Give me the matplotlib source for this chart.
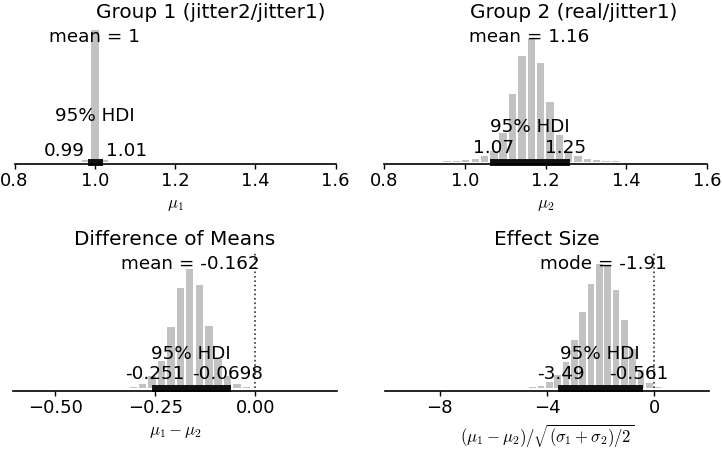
import matplotlib
matplotlib.use("Agg")
import matplotlib.pyplot as plt
from matplotlib.transforms import blended_transform_factory

plt.rcParams['font.family'] = 'DejaVu Sans'
plt.rcParams['font.size'] = 13.2
plt.rcParams['xtick.labelsize'] = 13
plt.rcParams['axes.labelsize'] = 12
plt.rcParams['mathtext.fontset'] = 'cm'

# posterior histograms (bin centres, relative counts)
mu1_centers = [0.978, 1.0006, 1.023]
mu1_counts = [2, 131.5, 2]
mu1_binw = 0.0227
mu1_hdi = [0.99, 1.01]
mu1_mean = 1.0

mu2_centers = [0.956, 0.979, 1.002, 1.026, 1.049, 1.072, 1.095, 1.118, 1.141, 1.165,
               1.188, 1.211, 1.234, 1.257, 1.280, 1.304, 1.327, 1.350, 1.373]
mu2_counts = [0.4, 0.7, 1.7, 3, 5.7, 11, 29, 68, 105.7, 123,
              99, 59.7, 26.3, 10.7, 5.7, 2.3, 1.3, 0.7, 0.4]
mu2_binw = 0.0232
mu2_hdi = [1.07, 1.25]
mu2_mean = 1.16

diff_centers = [-0.376, -0.353, -0.329, -0.305, -0.282, -0.258, -0.235, -0.211, -0.187, -0.164,
                -0.140, -0.116, -0.093, -0.069, -0.046, -0.022, 0.002, 0.025, 0.049]
diff_counts = [0.3, 0.5, 0.8, 1.8, 4.5, 12, 27.5, 61.8, 100.8, 119.2,
               103.5, 62.8, 29.2, 12, 4.2, 1.8, 0.8, 0.4, 0.3]
diff_binw = 0.0236
diff_hdi = [-0.251, -0.0698]
diff_mean = -0.162

eff_centers = [-5.777, -5.466, -5.156, -4.845, -4.535, -4.224, -3.914, -3.603, -3.292, -2.982,
               -2.671, -2.361, -2.050, -1.739, -1.429, -1.118, -0.808, -0.497, -0.186, 0.124, 0.435]
eff_counts = [0.3, 0.3, 0.5, 0.8, 1.2, 2.8, 6.2, 13, 26.2, 48,
              76.2, 104.2, 124.2, 123.5, 98.5, 68.5, 39, 18.5, 5.2, 1.5, 0.8]
eff_binw = 0.3106
eff_hdi = [-3.49, -0.561]
eff_mode = -1.91

bar_color = '#c2c2c2'


def plot_posterior(ax, centers, counts, binw, hdi, stat, stat_val, title, label,
                   xlim, xticks, title_x=0.5, hdi_txt_y=0.065, hdi_lbl_y=0.215,
                   split_labels=False, draw_zero=False):
    ax.bar(centers, counts, width=0.8 * binw, color=bar_color, edgecolor='none')
    ax.set_xlim(xlim)
    ax.set_ylim(0, 135)
    ax.set_title(title, fontsize=14.4, x=title_x)
    trans = blended_transform_factory(ax.transData, ax.transAxes)
    ax.text(stat_val, 0.885, '%s = %.3g' % (stat, stat_val), transform=trans,
            ha='center', va='baseline')
    if draw_zero:
        ax.axvline(0, linestyle=':', color='#333333', lw=1.2)
    hdi_line, = ax.plot(hdi, [0, 0], lw=5.0, color='#111111')
    hdi_line.set_clip_on(False)
    if split_labels:
        # labels pushed off the tiny interval
        ax.text(hdi[0] - 0.015, hdi_txt_y, '%.3g' % hdi[0], transform=trans,
                ha='right', va='baseline')
        ax.text(hdi[1] + 0.018, hdi_txt_y, '%.3g' % hdi[1], transform=trans,
                ha='left', va='baseline')
    else:
        ax.text(hdi[0], hdi_txt_y, '%.3g' % hdi[0], transform=trans,
                ha='center', va='baseline')
        ax.text(hdi[1], hdi_txt_y, '%.3g' % hdi[1], transform=trans,
                ha='center', va='baseline')
    ax.text((hdi[0] + hdi[1]) / 2, hdi_lbl_y, '95% HDI', transform=trans,
            ha='center', va='baseline')
    ax.spines['bottom'].set_position(('outward', 2))
    ax.spines['bottom'].set_linewidth(1.2)
    for loc in ['left', 'top', 'right']:
        ax.spines[loc].set_color('none')
    ax.set_yticks([])
    ax.set_xticks(xticks)
    ax.tick_params(axis='x', direction='out', length=3.5, width=1, pad=2)
    ax.set_xlabel(label)


fig = plt.figure(figsize=(7.22, 4.5), dpi=100)
ax1 = fig.add_axes([0.0201, 0.6411, 0.4446, 0.3])
ax2 = fig.add_axes([0.5323, 0.6411, 0.4466, 0.3])
ax3 = fig.add_axes([0.0184, 0.1367, 0.448, 0.3])
ax4 = fig.add_axes([0.5332, 0.1367, 0.4483, 0.3])

plot_posterior(ax1, mu1_centers, mu1_counts, mu1_binw, mu1_hdi, 'mean', mu1_mean,
               'Group 1 (jitter2/jitter1)', r'$\mu_1$', (0.8, 1.6),
               [0.8, 1.0, 1.2, 1.4, 1.6], title_x=0.612,
               hdi_txt_y=0.041, hdi_lbl_y=0.302, split_labels=True)
plot_posterior(ax2, mu2_centers, mu2_counts, mu2_binw, mu2_hdi, 'mean', mu2_mean,
               'Group 2 (real/jitter1)', r'$\mu_2$', (0.8, 1.6),
               [0.8, 1.0, 1.2, 1.4, 1.6], title_x=0.586, hdi_txt_y=0.061)
plot_posterior(ax3, diff_centers, diff_counts, diff_binw, diff_hdi, 'mean', diff_mean,
               'Difference of Means', r'$\mu_1 - \mu_2$', (-0.605, 0.2035),
               [-0.5, -0.25, 0.0], hdi_txt_y=0.068, draw_zero=True)
plot_posterior(ax4, eff_centers, eff_counts, eff_binw, eff_hdi, 'mode', eff_mode,
               'Effect Size', r'$(\mu_1 - \mu_2)/\sqrt{(\sigma_1 + \sigma_2)/2}$',
               (-10.04, 2.03), [-8, -4, 0], hdi_txt_y=0.068, draw_zero=True)

fig.savefig('out.png', dpi=100)
